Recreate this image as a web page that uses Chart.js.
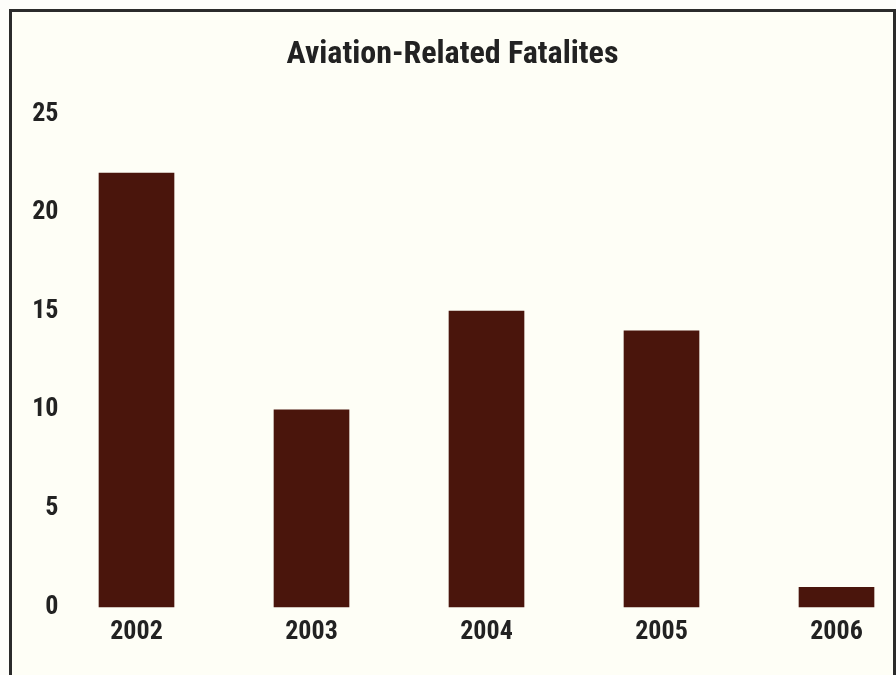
<!DOCTYPE html>
<html>
<head>
<meta charset="utf-8">
<script src="https://cdn.jsdelivr.net/npm/chart.js@4"></script>
<style>
  body { margin: 0; background: #fdfdfa; }
  #frame {
    position: absolute; left: 9px; top: 9px;
    width: 881px; height: 700px;
    border: 3px solid #2b2b2b;
    background: #fefef6;
  }
  #wrap { position: absolute; left: 0; top: 0; width: 896px; height: 675px; }
</style>
</head>
<body>
<div id="frame"></div>
<div id="wrap"><canvas id="fatalChart" width="896" height="675"></canvas></div>
<script>
const years = ["2002", "2003", "2004", "2005", "2006"];
const fatalities = [22, 10, 15, 14, 1];
const yTicks = [0, 5, 10, 15, 20, 25];

const family = '"Roboto Condensed", "DejaVu Sans Condensed", sans-serif';

const ctx = document.getElementById("fatalChart").getContext("2d");
const fatalChart = new Chart(ctx, {
  type: "bar",
  data: {
    labels: years,
    datasets: [
      {
        label: "Fatalities",
        data: fatalities,
        backgroundColor: "#4a150c",
        barThickness: 75,
        clip: false,
      },
    ],
  },
  options: {
    responsive: false,
    animation: false,
    layout: { padding: { left: 9, right: 0, top: 0, bottom: 0 } },
    plugins: {
      legend: { display: false },
      tooltip: { enabled: false },
      title: {
        display: true,
        text: "Aviation-Related Fatalites",
        color: "#222",
        font: { family: family, size: 32, weight: "bold", lineHeight: 1.2 },
        padding: { top: 36, bottom: 39.6 },
      },
    },
    scales: {
      x: {
        offset: false,
        grid: { display: false, drawTicks: false },
        border: { display: false },
        ticks: {
          color: "#222",
          padding: 10,
          maxRotation: 0,
          font: { family: family, size: 26, weight: "bold" },
        },
        // room on the right for the last bar, without narrowing the title box
        afterFit: (scale) => {
          scale.height = 68;
          scale.paddingRight = 59.5;
        },
      },
      y: {
        min: 0,
        max: 25,
        grid: { display: false, drawTicks: false },
        border: { display: false },
        afterBuildTicks: (scale) => { scale.ticks = yTicks.map((v) => ({ value: v })); },
        ticks: {
          color: "#222",
          padding: 78,
          crossAlign: "near",
          font: { family: family, size: 26, weight: "bold" },
        },
        // keep the wide label gap from padding the plot top and bottom
        afterFit: (scale) => {
          scale.width = 127.5;
          scale.paddingTop = 15;
          scale.paddingBottom = 15;
        },
      },
    },
  },
});
</script>
</body>
</html>
